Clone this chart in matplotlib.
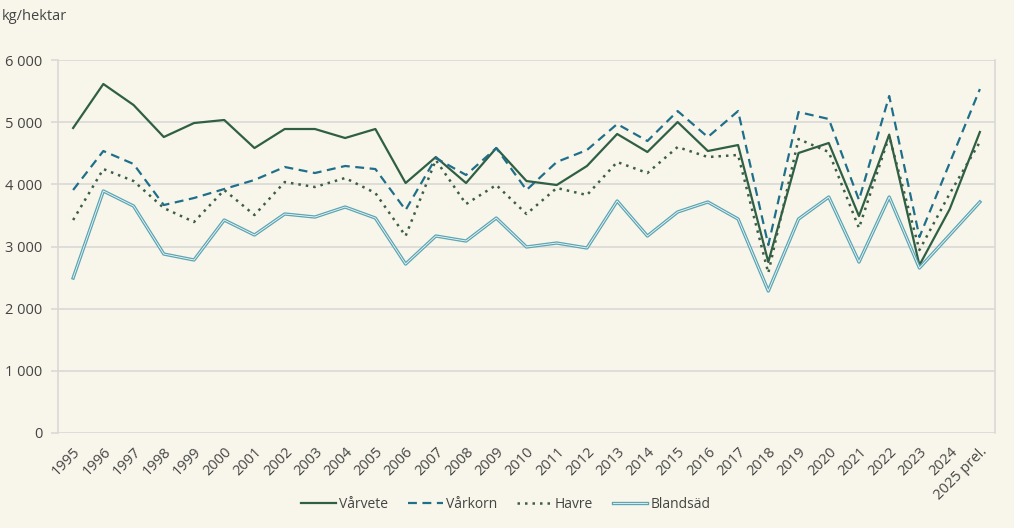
import matplotlib
matplotlib.use("Agg")
import matplotlib.pyplot as plt
import matplotlib.patheffects as pe
from matplotlib.ticker import FuncFormatter
import numpy as np

plt.rcParams['font.family'] = ['Open Sans', 'DejaVu Sans']

##########################
### DATA
##########################

years = ['1995', '1996', '1997', '1998', '1999', '2000', '2001', '2002', '2003',
         '2004', '2005', '2006', '2007', '2008', '2009', '2010', '2011', '2012',
         '2013', '2014', '2015', '2016', '2017', '2018', '2019', '2020', '2021',
         '2022', '2023', '2024', '2025 prel.']

varvete = [4906, 5614, 5276, 4761, 4986, 5035, 4584, 4890, 4890, 4745, 4890,
           4021, 4439, 4021, 4584, 4053, 3989, 4295, 4810, 4520, 5002, 4536,
           4632, 2750, 4504, 4665, 3490, 4800, 2700, 3600, 4842]
varkorn = [3909, 4536, 4327, 3667, 3780, 3925, 4070, 4279, 4182, 4295, 4246,
           3587, 4423, 4150, 4584, 3909, 4359, 4552, 4970, 4697, 5179, 4761,
           5179, 3024, 5163, 5051, 3748, 5421, 3153, 4343, 5533]
havre = [3426, 4246, 4053, 3619, 3394, 3909, 3506, 4037, 3957, 4102, 3860,
         3169, 4391, 3683, 3989, 3523, 3941, 3828, 4359, 4182, 4600, 4439,
         4472, 2574, 4729, 4520, 3297, 4777, 2943, 3850, 4681]
blandsad = [2493, 3893, 3651, 2879, 2783, 3426, 3185, 3523, 3474, 3635, 3458,
            2718, 3169, 3088, 3458, 2992, 3056, 2976, 3732, 3169, 3555, 3716,
            3442, 2284, 3442, 3796, 2750, 3796, 2654, 3185, 3716]

##########################
### PLOT
##########################

bg = '#f8f6ea'
grid_col = '#d9d9d6'
text_col = '#444444'

fig = plt.figure(figsize=(10.14, 5.28), dpi=100, facecolor=bg)
ax = fig.add_axes([58/1014, 1 - 433/528, 937/1014, 373/528])
ax.set_facecolor(bg)

x = np.arange(len(years))

ax.plot(x, varvete, color='#2f5f45', lw=1.6, label='Vårvete')
ax.plot(x, varkorn, color='#1f6f8b', lw=1.6, ls=(0, (4, 2.5)), label='Vårkorn')
ax.plot(x, havre, color='#3b5e4a', lw=1.8, ls=(0, (1, 2)), label='Havre')
ax.plot(x, blandsad, color='#f4f7f2', lw=0.6, label='Blandsäd',
        path_effects=[pe.Stroke(linewidth=2.4, foreground='#5aa5b6'), pe.Normal()])

ax.set_xlim(-0.5, len(years) - 0.5)
ax.set_ylim(0, 6000)
ax.set_yticks(np.arange(0, 6001, 1000))
ax.yaxis.set_major_formatter(FuncFormatter(lambda v, p: f'{int(v):,}'.replace(',', ' ')))
ax.set_xticks(x)
ax.set_xticklabels(years, rotation=45, ha='right', rotation_mode='anchor')

ax.grid(axis='y', color=grid_col, lw=1.2)
ax.set_axisbelow(True)
for s in ['top', 'bottom']:
    ax.spines[s].set_visible(False)
for s in ['left', 'right']:
    ax.spines[s].set_color(grid_col)
    ax.spines[s].set_linewidth(1.2)

ax.tick_params(axis='y', length=5, color=grid_col, width=1.2, labelsize=10.5,
               labelcolor=text_col, pad=6)
ax.tick_params(axis='x', length=0, labelsize=10.5, labelcolor=text_col, pad=8)

fig.text(2/1014, 1 - 17/528, 'kg/hektar', fontsize=10.5, color=text_col, va='center')

leg = fig.legend(loc='center', bbox_to_anchor=(506/1014, 1 - 504/528), ncol=4,
                 frameon=False, fontsize=10, handlelength=2.5, handletextpad=0.25,
                 columnspacing=1.4)
for t in leg.get_texts():
    t.set_color(text_col)

plt.savefig('out.png', dpi=100, facecolor=bg)
